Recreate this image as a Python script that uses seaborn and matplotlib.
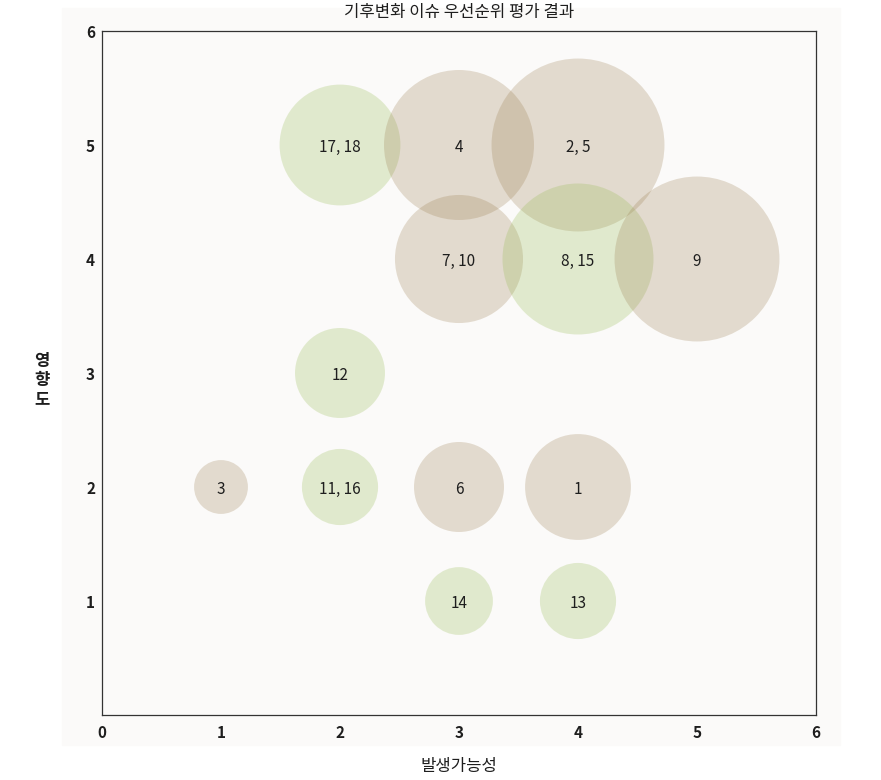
import numpy as np
import pandas as pd
import matplotlib.pyplot as plt
from matplotlib.patches import Rectangle
import seaborn as sns

# issue bubbles: likelihood (x), impact (y), relative weight, group
labels = ['17, 18', '4', '2, 5', '7, 10', '8, 15', '9', '12',
          '3', '11, 16', '6', '1', '14', '13']
likelihood = [2, 3, 4, 3, 4, 5, 2, 1, 2, 3, 4, 3, 4]
impact = [5, 5, 5, 4, 4, 4, 3, 2, 2, 2, 2, 1, 1]
weight = [146, 225, 299, 164, 228, 272, 81, 29, 58, 81, 112, 46, 58]
group = ['green', 'brown', 'brown', 'brown', 'green', 'brown', 'green',
         'brown', 'green', 'brown', 'brown', 'green', 'green']

xticks = [0, 1, 2, 3, 4, 5, 6]
yticks = [1, 2, 3, 4, 5, 6]

df = pd.DataFrame({'x': likelihood, 'y': impact, 'w': weight,
                   'g': group, 'label': labels})

sns.set_theme(style='white')
plt.rcParams['font.family'] = ['Noto Sans CJK KR', 'DejaVu Sans']

W, H = 881, 780
fig = plt.figure(figsize=(W / 100, H / 100), dpi=100)
fig.patch.set_facecolor('white')
# light panel behind the chart
fig.patches.append(Rectangle((62 / W, 1 - 745 / H), (840 - 62) / W, (745 - 8) / H,
                             transform=fig.transFigure, color='#fbfaf9', zorder=-5))

ax = fig.add_axes([102 / W, 1 - 715 / H, (816 - 102) / W, (715 - 31) / H])
ax.set_zorder(2)
ax.set_facecolor('#fbfaf9')

palette = {'brown': '#9a7c4e', 'green': '#93ba4d'}
sns.scatterplot(data=df, x='x', y='y', hue='g', size='w', palette=palette,
                sizes=(0, 15552), size_norm=(0, 300), alpha=0.25,
                linewidth=0, legend=False, ax=ax, zorder=3)

for xi, yi, lab in zip(likelihood, impact, labels):
    ax.text(xi, yi, lab, ha='center', va='center_baseline', fontsize=11,
            fontweight='medium', color='#1e1e1e', zorder=5)

ax.set_xlim(0, 6)
ax.set_ylim(0, 6)
ax.set_xticks(xticks)
ax.set_yticks(yticks)
ax.set_xticklabels([str(t) for t in xticks], fontsize=11, fontweight='bold', color='#1e1e1e')
ax.set_yticklabels([str(t) for t in yticks], fontsize=11, fontweight='bold', color='#1e1e1e')
ax.tick_params(axis='x', length=0, pad=7)
ax.tick_params(axis='y', length=0, pad=5)
for sp in ax.spines.values():
    sp.set_color('#333333')
    sp.set_linewidth(0.9)
    sp.set_visible(True)

ax.set_xlabel('')
ax.set_ylabel('')
fig.text(459 / W, 1 - 766 / H, '발생가능성', ha='center', va='center',
         fontsize=12, fontweight='medium', color='#1e1e1e')
fig.text(42 / W, 1 - 380 / H, '영\n향\n도', ha='center', va='center',
         fontsize=12, fontweight='bold', color='#1e1e1e', linespacing=1.05)
fig.text(459 / W, 1 - 13 / H, '기후변화 이슈 우선순위 평가 결과', ha='center', va='center',
         fontsize=12, fontweight='medium', color='#1e1e1e')

fig.savefig('out.png', dpi=100)
